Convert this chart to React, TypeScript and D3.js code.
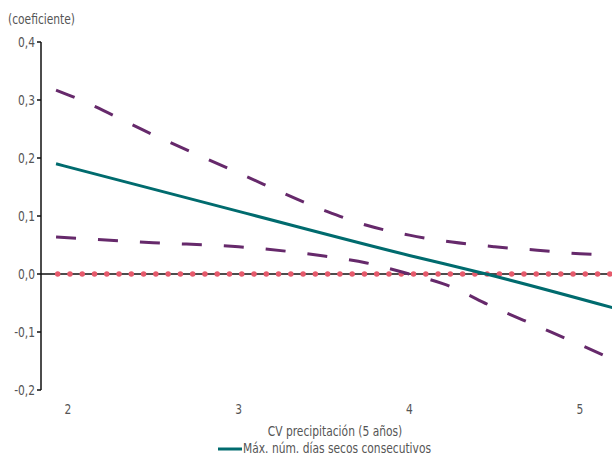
import React from 'react';
import * as d3 from 'd3';

// CV precipitación (5 años) vs coefficient
const teal: [number, number][] = [
  [1.93, 0.19],
  [3.0, 0.108],
  [4.0, 0.032],
  [4.45, 0.0],
  [5.19, -0.058],
];

const upper: [number, number][] = [
  [1.93, 0.317],
  [2.0, 0.309],
  [2.5, 0.24],
  [3.0, 0.174],
  [3.5, 0.11],
  [3.75, 0.084],
  [4.0, 0.067],
  [4.25, 0.055],
  [4.5, 0.047],
  [4.75, 0.041],
  [5.0, 0.035],
  [5.19, 0.033],
];

const lower: [number, number][] = [
  [1.93, 0.064],
  [2.5, 0.054],
  [3.0, 0.047],
  [3.5, 0.031],
  [3.75, 0.019],
  [4.0, 0.0],
  [4.2, -0.017],
  [4.5, -0.058],
  [4.75, -0.09],
  [5.0, -0.122],
  [5.19, -0.147],
];

const yTicks = [0.4, 0.3, 0.2, 0.1, 0.0, -0.1, -0.2];
const xTicks = [2, 3, 4, 5];

const font = '"DejaVu Sans Condensed", "DejaVu Sans", sans-serif';
const textColor = '#555';
const squeeze = 0.82;

const locale = d3.formatLocale({
  decimal: ',',
  thousands: '.',
  grouping: [3],
  currency: ['', '€'],
  minus: '-',
});
const fmt = locale.format('.1f');

// condensed text: scale horizontally around its anchor point
const T = ({
  x,
  y,
  anchor = 'start',
  children,
}: {
  x: number;
  y: number;
  anchor?: 'start' | 'middle' | 'end';
  children: React.ReactNode;
}) => (
  <text
    transform={`translate(${x},${y}) scale(${squeeze},1)`}
    textAnchor={anchor}
    fontSize={14.5}
    fill={textColor}
  >
    {children}
  </text>
);

export default function App() {
  const width = 612;
  const height = 455;
  const axisX = 41;

  const x = d3.scaleLinear().domain([2, 5]).range([68, 580]);
  const y = d3.scaleLinear().domain([-0.2, 0.4]).range([390, 42]);

  const line = d3
    .line<[number, number]>()
    .x((d) => x(d[0]))
    .y((d) => y(d[1]))
    .curve(d3.curveMonotoneX);

  const y0 = y(0);

  return (
    <svg
      width={width}
      height={height}
      style={{ position: 'absolute', left: 0, top: 0, background: '#fff' }}
      fontFamily={font}
    >
      <T x={8} y={24}>(coeficiente)</T>

      {/* zero reference */}
      <line x1={axisX} x2={width} y1={y0} y2={y0} stroke="#111" strokeWidth={1.5} />
      <line
        x1={57.7}
        x2={width}
        y1={y0}
        y2={y0}
        stroke="#e65a6c"
        strokeWidth={5.5}
        strokeLinecap="round"
        strokeDasharray="0 12.27"
      />

      {/* y axis */}
      <line x1={axisX} x2={axisX} y1={y(0.4)} y2={y(-0.2)} stroke="#111" strokeWidth={1.5} />
      {yTicks.map((t) => (
        <g key={t}>
          <line x1={axisX - 4} x2={axisX} y1={y(t)} y2={y(t)} stroke="#111" strokeWidth={1.5} />
          <T x={axisX - 6} y={y(t) + 5} anchor="end">
            {fmt(t)}
          </T>
        </g>
      ))}

      {/* x tick labels */}
      {xTicks.map((t) => (
        <T key={t} x={x(t)} y={414} anchor="middle">
          {t}
        </T>
      ))}
      <T x={335} y={436} anchor="middle">
        CV precipitación (5 años)
      </T>

      {/* confidence bounds */}
      <path d={line(upper) || ''} fill="none" stroke="#66296b" strokeWidth={3} strokeDasharray="20 22" />
      <path d={line(lower) || ''} fill="none" stroke="#66296b" strokeWidth={3} strokeDasharray="20 22" />
      {/* estimate */}
      <path d={line(teal) || ''} fill="none" stroke="#006b6e" strokeWidth={3} />

      {/* legend */}
      <line x1={218} x2={242} y1={449} y2={449} stroke="#006b6e" strokeWidth={3} />
      <T x={243} y={453}>Máx. núm. días secos consecutivos</T>
    </svg>
  );
}
